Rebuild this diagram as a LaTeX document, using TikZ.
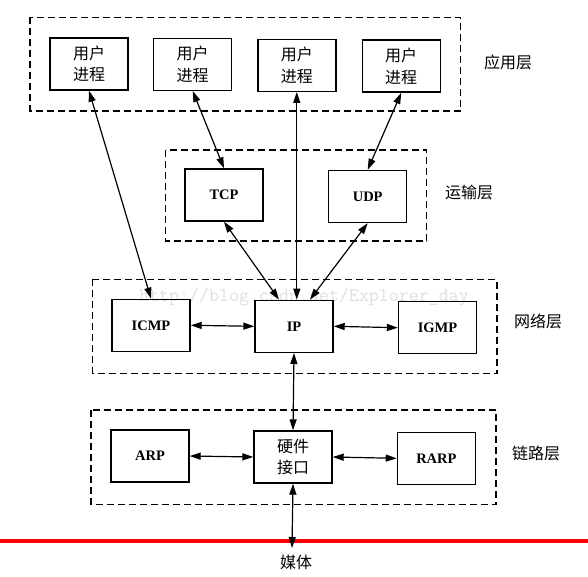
\documentclass[tikz,border=0pt]{standalone}
\usepackage{fontspec}
\setmainfont{Liberation Serif}
\newfontfamily\cjk{Noto Sans CJK SC}
\usetikzlibrary{arrows.meta}
\begin{document}
\begin{tikzpicture}[x=1pt,y=-1pt,
  box/.style={draw,line width=1.4pt,minimum width=78pt,minimum height=52pt,inner sep=0pt,align=center},
  cjkbox/.style={box,font=\cjk\fontsize{16}{21.5}\selectfont},
  protobox/.style={box,font=\fontsize{14.5}{16}\selectfont\bfseries},
  layer/.style={draw,line width=1.1pt,dash pattern=on 7pt off 4pt},
  layerlabel/.style={font=\cjk\fontsize{16}{18}\selectfont,inner sep=0pt},
  link/.style={line width=1.2pt,{Triangle[length=11pt,width=7pt]}-{Triangle[length=11pt,width=7pt]}}]
\useasboundingbox (0,0) rectangle (588,577);
% watermark
\node[anchor=base west,inner sep=0pt,text=black!13,font=\ttfamily\fontsize{19.4}{19.4}\selectfont] (wm) at (139,301) {http://blog.csdn.net/Explorer\_day};
% layer frames
\draw[layer] (30,17.5) rectangle (460.5,111);
\draw[layer] (165.7,150) rectangle (426.7,241);
\draw[layer] (92.6,279.3) rectangle (497,373.3);
\draw[layer] (91,410) rectangle (496,504.3);
% layer labels
\node[layerlabel] (lapp) at (508,62) {应用层};
\node[layerlabel] (ltra) at (469,192.3) {运输层};
\node[layerlabel] (lnet) at (538,321.7) {网络层};
\node[layerlabel] (llnk) at (536,453.3) {链路层};
% application
\node[cjkbox] (u1) at (89,64) {用户\\进程};
\node[cjkbox] (u2) at (192.7,64.3) {用户\\进程};
\node[cjkbox] (u3) at (296.8,65.3) {用户\\进程};
\node[cjkbox] (u4) at (401.2,66.2) {用户\\进程};
% transport
\node[protobox] (tcp) at (224,195) {TCP};
\node[protobox] (udp) at (367.7,196.5) {UDP};
% network
\node[protobox] (icmp) at (151,325.3) {ICMP};
\node[protobox] (ip) at (294,326.3) {IP};
\node[protobox] (igmp) at (437.5,327.7) {IGMP};
% link
\node[protobox] (arp) at (150,456) {ARP};
\node[cjkbox] (hw) at (293,457) {硬件\\接口};
\node[protobox] (rarp) at (436.4,458.3) {RARP};
% medium
\draw[red,line width=3.5pt] (0,541) -- (588,541);
\coordinate (med) at (292,548);
\node[font=\cjk\fontsize{16}{18}\selectfont,inner sep=0pt] (medium) at (296,562) {媒体};
% connectors
\draw[link] (u1.south) -- (icmp.north);
\draw[link] (u2.south) -- (tcp.north);
\draw[link] (u3.south) -- (u3.south |- ip.north);
\draw[link] (u4.south) -- (udp.north);
\draw[link] (tcp.south) -- ([xshift=-15pt]ip.north);
\draw[link] (udp.south) -- ([xshift=16pt]ip.north);
\draw[link] (icmp.east) -- (ip.west);
\draw[link] (ip.east) -- (igmp.west);
\draw[link] (ip.south) -- (hw.north);
\draw[link] (arp.east) -- (hw.west);
\draw[link] (hw.east) -- (rarp.west);
\draw[link] (hw.south) -- (med);
\end{tikzpicture}
\end{document}
